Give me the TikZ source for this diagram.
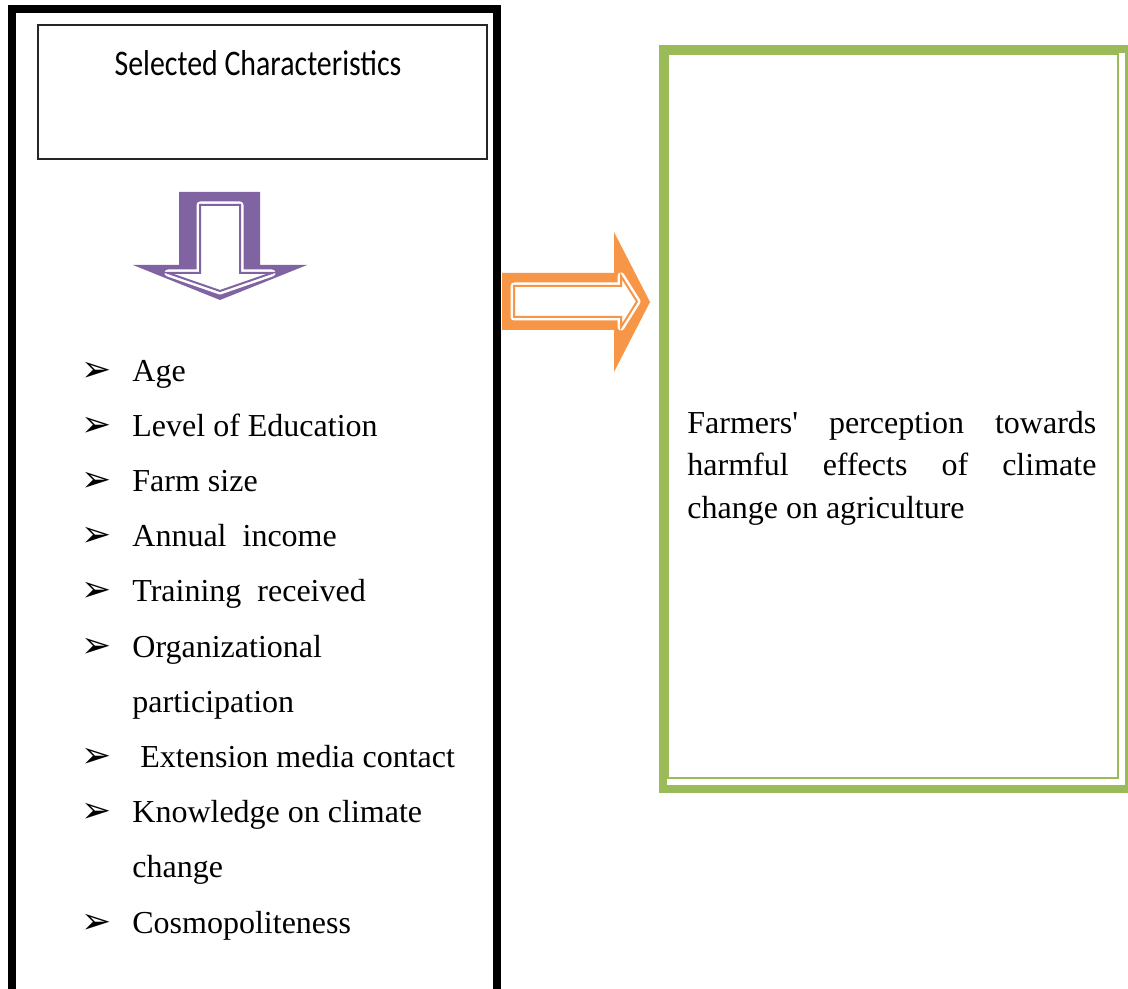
\documentclass[tikz,border=0pt]{standalone}
\usepackage{fontspec}
\setmainfont{Liberation Serif}
\newfontfamily\headfont[FakeStretch=0.83]{Carlito}
\newfontfamily\markfont{DejaVu Sans}
\usepackage{tikz}
\usetikzlibrary{positioning}
\definecolor{arrowpurple}{HTML}{8064A2}
\definecolor{arroworange}{HTML}{F79646}
\definecolor{framegreen}{HTML}{9BBB59}
\tikzstyle{listtext} = [anchor=base west, inner sep=0pt, font=\fontsize{16}{19}\selectfont]
\tikzstyle{listmark} = [anchor=base west, inner sep=0pt, font=\markfont\fontsize{18}{20}\selectfont]
\tikzstyle{band} = [line width=3.5pt, draw=white, fill=white, line join=round]
\newcommand{\itemmark}{➢}
\hyphenpenalty=10000
\tolerance=9999

\begin{document}
\begin{tikzpicture}[x=0.5pt, y=-0.5pt]
	\useasboundingbox (0,0) rectangle (1128,989);
	\clip (0,0) rectangle (1128,989);
	\fill[white] (0,0) rectangle (1128,989);
	% left frame, open at the bottom
	\draw[line width=4pt] (12,1000) -- (12,9) -- (497,9) -- (497,1000);
	\node (headbox) [draw=black!85, line width=1pt, minimum width=224.5pt, minimum height=67pt, inner sep=0pt, anchor=north west] at (37,24) {};
	\node (heading) [anchor=base, font=\headfont\fontsize{18}{20}\selectfont] at (258,76) {Selected Characteristics};
	% purple down arrow
	\fill[arrowpurple] (179,192) -- (260,192) -- (260,265) -- (307,265) -- (220,300) -- (133,265) -- (179,265) -- cycle;
	\draw[band] (200,205) -- (240,205) -- (240,273) -- (272,273) -- (220,291) -- (168,273) -- (200,273) -- cycle;
	\draw[arrowpurple, line width=1pt] (200,205) -- (240,205) -- (240,273) -- (272,273) -- (220,291) -- (168,273) -- (200,273) -- cycle;
	% characteristics
	\node (m1) [listmark] at (81,381) {\itemmark};
	\node (age) [listtext] at (132,381) {Age};
	\node (m2) [listmark] at (81,436.2) {\itemmark};
	\node (edu) [listtext] at (132,436.2) {Level of Education};
	\node (m3) [listmark] at (81,491.4) {\itemmark};
	\node (farm) [listtext] at (132,491.4) {Farm size};
	\node (m4) [listmark] at (81,546.6) {\itemmark};
	\node (income) [listtext] at (132,546.6) {Annual\ \ income};
	\node (m5) [listmark] at (81,601.8) {\itemmark};
	\node (training) [listtext] at (132,601.8) {Training\ \ received};
	\node (m6) [listmark] at (81,657) {\itemmark};
	\node (org) [listtext] at (132,657) {Organizational};
	\node (orgb) [listtext] at (132,712.2) {participation};
	\node (m7) [listmark] at (81,767.4) {\itemmark};
	\node (media) [listtext] at (140,767.4) {Extension media contact};
	\node (m8) [listmark] at (81,822.6) {\itemmark};
	\node (know) [listtext] at (132,822.6) {Knowledge on climate};
	\node (knowb) [listtext] at (132,877.8) {change};
	\node (m9) [listmark] at (81,933) {\itemmark};
	\node (cosmo) [listtext] at (132,933) {Cosmopoliteness};
	% orange right arrow
	\fill[arroworange] (502,273) -- (614,273) -- (614,232) -- (650,302) -- (614,372) -- (614,330) -- (502,330) -- cycle;
	\draw[band] (514,286) -- (621,286) -- (621,276) -- (637,301.5) -- (621,327) -- (621,317) -- (514,317) -- cycle;
	\draw[arroworange, line width=1pt] (514,286) -- (621,286) -- (621,276) -- (637,301.5) -- (621,327) -- (621,317) -- (514,317) -- cycle;
	% perception box
	\node (outcome) [draw=framegreen, line width=4pt, minimum width=233pt, minimum height=370pt, inner sep=0pt, anchor=north west] at (659,45) {};
	\node (outcomein) [draw=framegreen, line width=1pt, minimum width=225pt, minimum height=362pt, inner sep=0pt, anchor=north west] at (667,53) {};
	\node (perception) [anchor=base west, inner sep=0pt, text width=204.5pt, align=justify, font=\fontsize{16}{21.35}\selectfont] at (687,433) {Farmers\textquotesingle{} perception towards harmful effects of climate change on agriculture};
\end{tikzpicture}
\end{document}
